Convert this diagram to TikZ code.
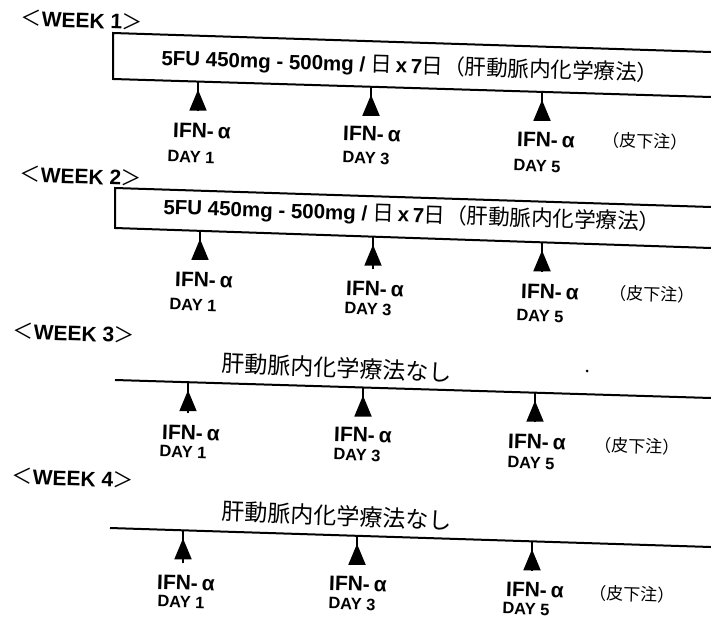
\documentclass[tikz,border=0pt]{standalone}
\usepackage{fontspec}
\setmainfont{Liberation Sans}
\newfontfamily\jp{Noto Sans CJK JP}
\newcommand\jptext[1]{{\jp\mdseries #1}}
\usetikzlibrary{arrows.meta}
\tikzset{
 rot/.style={rotate=-1.8, inner sep=0pt},
 wklabel/.style={rot, font=\bfseries\fontsize{21}{24}\selectfont},
 boxtext/.style={rot, font=\bfseries\fontsize{20.5}{24}\selectfont},
 notext/.style={rotate=-2.4, inner sep=0pt, font=\jp\fontsize{23}{26}\selectfont},
 ifnlabel/.style={rot, font=\bfseries\fontsize{21}{24}\selectfont},
 daylabel/.style={rot, font=\bfseries\fontsize{16.5}{19}\selectfont},
 sublabel/.style={rot, font=\jp\fontsize{17}{20}\selectfont},
 bar/.style={line width=2pt},
 stem/.style={line width=1.8pt},
 tri/.style={line width=1.8pt, -{Triangle[length=21pt,width=17pt]}, shorten >=8pt, shorten <=12pt},
}
\begin{document}
\begin{tikzpicture}[x=1pt,y=-1pt]
\useasboundingbox (0,0) rectangle (711,618);

% ---------------- WEEK 1
\node[wklabel] (w1) at (82,20) {\jptext{＜}WEEK 1\jptext{＞}};
\draw[bar] (711,52) -- (113,33) -- (113,79) -- (711,97);
\node[boxtext] (t1) at (410,66) {5FU 450mg - 500mg / \jptext{\fontsize{21.5}{24}\selectfont 日}\,x\,7\jptext{\fontsize{21.5}{24}\selectfont 日（肝動脈内化学療法）}};
\foreach \k/\bx/\by/\ix/\iy/\dx/\dy in {1/198/81.6/202/131/191/157, 3/371/86.8/372/134/366/158, 5/542/91.9/546/140/537/166} {
 \coordinate (b1\k) at (\bx,\by);
 \node[ifnlabel] (i1\k) at (\ix,\iy) {IFN-\hspace{4pt}α};
 \node[daylabel] (d1\k) at (\dx,\dy) {DAY \k};
 \draw[stem] (b1\k) -- ++(0,10);
 \draw[tri] (b1\k |- i1\k.north) -- (b1\k);
}
\node[sublabel] (s1) at (645,141) {（皮下注）};

% ---------------- WEEK 2
\node[wklabel] (w2) at (81,176) {\jptext{＜}WEEK 2\jptext{＞}};
\draw[bar] (711,207) -- (115,188) -- (115,228) -- (711,248);
\node[boxtext] (t2) at (412,215) {5FU 450mg - 500mg / \jptext{\fontsize{21.5}{24}\selectfont 日}\,x\,7\jptext{\fontsize{21.5}{24}\selectfont 日（肝動脈内化学療法）}};
\foreach \k/\bx/\by/\ix/\iy/\dx/\dy in {1/200/230.9/204/280/193/305, 3/373/236.7/375/289/368/309, 5/542/242.3/550/292/540/316} {
 \coordinate (b2\k) at (\bx,\by);
 \node[ifnlabel] (i2\k) at (\ix,\iy) {IFN-\hspace{4pt}α};
 \node[daylabel] (d2\k) at (\dx,\dy) {DAY \k};
 \draw[stem] (b2\k) -- ++(0,10);
 \draw[tri] (b2\k |- i2\k.north) -- (b2\k);
}
\node[sublabel] (s2) at (652,294) {（皮下注）};

% ---------------- WEEK 3
\node[wklabel] (w3) at (74,333) {\jptext{＜}WEEK 3\jptext{＞}};
\draw[bar] (115,380) -- (711,398);
\node[notext] (t3) at (337,368) {肝動脈内化学療法なし};
\foreach \k/\bx/\by/\ix/\iy/\dx/\dy in {1/188/382.2/191/433/183/452, 3/363/387.5/363/435/357/455, 5/535/392.7/537/442/531/463} {
 \coordinate (b3\k) at (\bx,\by);
 \node[ifnlabel] (i3\k) at (\ix,\iy) {IFN-\hspace{4pt}α};
 \node[daylabel] (d3\k) at (\dx,\dy) {DAY \k};
 \draw[stem] (b3\k) -- ++(0,10);
 \draw[tri] (b3\k |- i3\k.north) -- (b3\k);
}
\node[sublabel] (s3) at (637,446) {（皮下注）};
\fill (587,371) circle (1.5pt);

% ---------------- WEEK 4
\node[wklabel] (w4) at (73,478) {\jptext{＜}WEEK 4\jptext{＞}};
\draw[bar] (110,528) -- (711,547);
\node[notext] (t4) at (337,516) {肝動脈内化学療法なし};
\foreach \k/\bx/\by/\ix/\iy/\dx/\dy in {1/183/530.3/186/583/181/602, 3/357/535.8/358/584/352/604, 5/532/541.3/535/590/526/609} {
 \coordinate (b4\k) at (\bx,\by);
 \node[ifnlabel] (i4\k) at (\ix,\iy) {IFN-\hspace{4pt}α};
 \node[daylabel] (d4\k) at (\dx,\dy) {DAY \k};
 \draw[stem] (b4\k) -- ++(0,10);
 \draw[tri] (b4\k |- i4\k.north) -- (b4\k);
}
\node[sublabel] (s4) at (632,594) {（皮下注）};
\end{tikzpicture}
\end{document}
